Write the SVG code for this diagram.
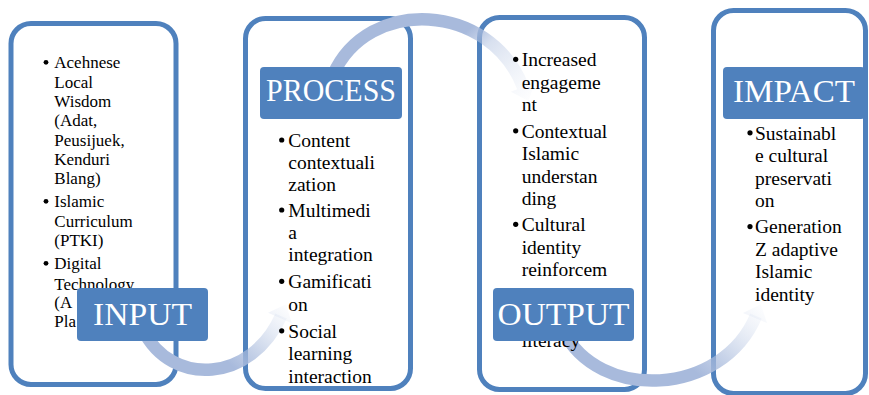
<svg xmlns="http://www.w3.org/2000/svg" width="869" height="395" viewBox="0 0 869 395">
  <style>
    .box { fill: #ffffff; stroke: #4F81BD; stroke-width: 5; }
    .label { fill: #4F81BD; }
    .label-text { font-family: "Liberation Serif", "Times New Roman", serif; font-size: 31px; fill: #ffffff; text-anchor: middle; }
    .body { font-family: "Liberation Serif", "Times New Roman", serif; font-size: 19.5px; fill: #000000; }
    .body-sm { font-size: 17px; }
    .bullet { fill: #000000; }
    .arc { fill: none; stroke-width: 12.5; }
  </style>
  <defs>
    <linearGradient id="fade1" gradientUnits="userSpaceOnUse" x1="232" y1="366" x2="288" y2="304">
      <stop offset="0" stop-color="#A8BADC" stop-opacity="1"/>
      <stop offset="0.35" stop-color="#A8BADC" stop-opacity="0.6"/>
      <stop offset="1" stop-color="#D2DCEE" stop-opacity="0.04"/>
    </linearGradient>
    <linearGradient id="fade2" gradientUnits="userSpaceOnUse" x1="468" y1="30" x2="530" y2="102">
      <stop offset="0" stop-color="#A8BADC" stop-opacity="1"/>
      <stop offset="0.25" stop-color="#A8BADC" stop-opacity="0.45"/>
      <stop offset="1" stop-color="#D2DCEE" stop-opacity="0.04"/>
    </linearGradient>
    <linearGradient id="fade3" gradientUnits="userSpaceOnUse" x1="700" y1="376" x2="762" y2="304">
      <stop offset="0" stop-color="#A8BADC" stop-opacity="1"/>
      <stop offset="0.35" stop-color="#A8BADC" stop-opacity="0.6"/>
      <stop offset="1" stop-color="#D2DCEE" stop-opacity="0.04"/>
    </linearGradient>
  </defs>

  <!-- column frames -->
  <g id="input-frame"><rect class="box" x="11" y="23.5" width="165" height="361" rx="20"/></g>
  <g id="process-frame"><rect class="box" x="245.5" y="18.5" width="165" height="370" rx="20"/></g>
  <g id="output-frame"><rect class="box" x="479.5" y="17.5" width="165" height="372" rx="20"/></g>
  <g id="impact-frame"><rect class="box" x="713.5" y="10.5" width="152" height="383" rx="20"/></g>

  <!-- curved flow arrows -->
  <g id="connectors">
    <path class="arc" stroke="url(#fade1)" d="M143,330 C172,388 252,382 281,316"/>
    <polygon fill="url(#fade1)" points="291.9,323.2 268.1,312.8 286.0,304.3"/>
    <path class="arc" stroke="url(#fade2)" d="M333,75 C368,-4 490,2 523,87"/>
    <polygon fill="url(#fade2)" points="535.1,82.3 510.9,91.7 528.4,101.0"/>
    <path class="arc" stroke="url(#fade3)" d="M563,330 C598,402 722,397 756,316"/>
    <polygon fill="url(#fade3)" points="767.0,323.0 743.0,313.0 760.8,304.2"/>
  </g>

  <!-- INPUT -->
  <g id="input">
    <g class="body body-sm">
      <circle class="bullet" cx="46" cy="62.3" r="2.4"/>
      <text x="54.3" y="68.3">Acehnese</text>
      <text x="54.3" y="87.6">Local</text>
      <text x="54.3" y="107">Wisdom</text>
      <text x="54.3" y="126.3">(Adat,</text>
      <text x="54.3" y="145.6">Peusijuek,</text>
      <text x="54.3" y="165">Kenduri</text>
      <text x="54.3" y="184.3">Blang)</text>
      <circle class="bullet" cx="46" cy="201.3" r="2.4"/>
      <text x="54.3" y="207.3">Islamic</text>
      <text x="54.3" y="226.6">Curriculum</text>
      <text x="54.3" y="246">(PTKI)</text>
      <circle class="bullet" cx="46" cy="263.3" r="2.4"/>
      <text x="54.3" y="269.3">Digital</text>
      <text x="54.3" y="290">Technology</text>
      <text x="54.3" y="308">(A</text>
      <text x="54.3" y="327.3">Pla</text>
    </g>
    <rect class="label" x="77" y="288" width="131" height="53" rx="4"/>
    <text class="label-text" x="142.5" y="325" textLength="99" lengthAdjust="spacingAndGlyphs">INPUT</text>
  </g>

  <!-- PROCESS -->
  <g id="process">
    <rect class="label" x="260" y="67" width="142" height="52" rx="4"/>
    <text class="label-text" x="331" y="101" textLength="130" lengthAdjust="spacingAndGlyphs">PROCESS</text>
    <g class="body">
      <circle class="bullet" cx="281.7" cy="140" r="2.6"/>
      <text x="288.3" y="146.7">Content</text>
      <text x="288.3" y="168.7">contextuali</text>
      <text x="288.3" y="190.7">zation</text>
      <circle class="bullet" cx="281.7" cy="210" r="2.6"/>
      <text x="288.3" y="216.7">Multimedi</text>
      <text x="288.3" y="239">a</text>
      <text x="288.3" y="261.3">integration</text>
      <circle class="bullet" cx="281.7" cy="281.3" r="2.6"/>
      <text x="288.3" y="288">Gamificati</text>
      <text x="288.3" y="310.5">on</text>
      <circle class="bullet" cx="281.7" cy="330.8" r="2.6"/>
      <text x="288.3" y="337.5">Social</text>
      <text x="288.3" y="360">learning</text>
      <text x="288.3" y="382.5">interaction</text>
    </g>
  </g>

  <!-- OUTPUT -->
  <g id="output">
    <g class="body">
      <circle class="bullet" cx="515.7" cy="59.3" r="2.6"/>
      <text x="521.7" y="66">Increased</text>
      <text x="521.7" y="88.5">engageme</text>
      <text x="521.7" y="111">nt</text>
      <circle class="bullet" cx="515.7" cy="130.8" r="2.6"/>
      <text x="521.7" y="137.5">Contextual</text>
      <text x="521.7" y="160">Islamic</text>
      <text x="521.7" y="182.5">understan</text>
      <text x="521.7" y="205">ding</text>
      <circle class="bullet" cx="515.7" cy="224.3" r="2.6"/>
      <text x="521.7" y="231">Cultural</text>
      <text x="521.7" y="253.5">identity</text>
      <text x="521.7" y="276">reinforcem</text>
      <text x="521.7" y="347">literacy</text>
    </g>
    <rect class="label" x="493" y="288" width="141" height="53" rx="4"/>
    <text class="label-text" x="563.5" y="325" textLength="132" lengthAdjust="spacingAndGlyphs">OUTPUT</text>
  </g>

  <!-- IMPACT -->
  <g id="impact">
    <rect class="label" x="723" y="67" width="142" height="52" rx="4"/>
    <text class="label-text" x="794" y="101.5" textLength="122" lengthAdjust="spacingAndGlyphs">IMPACT</text>
    <g class="body">
      <circle class="bullet" cx="750" cy="132.8" r="2.6"/>
      <text x="755" y="139.5">Sustainabl</text>
      <text x="755" y="162">e cultural</text>
      <text x="755" y="184.5">preservati</text>
      <text x="755" y="207">on</text>
      <circle class="bullet" cx="750" cy="226.6" r="2.6"/>
      <text x="755" y="233.3">Generation</text>
      <text x="755" y="255.7">Z adaptive</text>
      <text x="755" y="278.3">Islamic</text>
      <text x="755" y="300.7">identity</text>
    </g>
  </g>
</svg>
